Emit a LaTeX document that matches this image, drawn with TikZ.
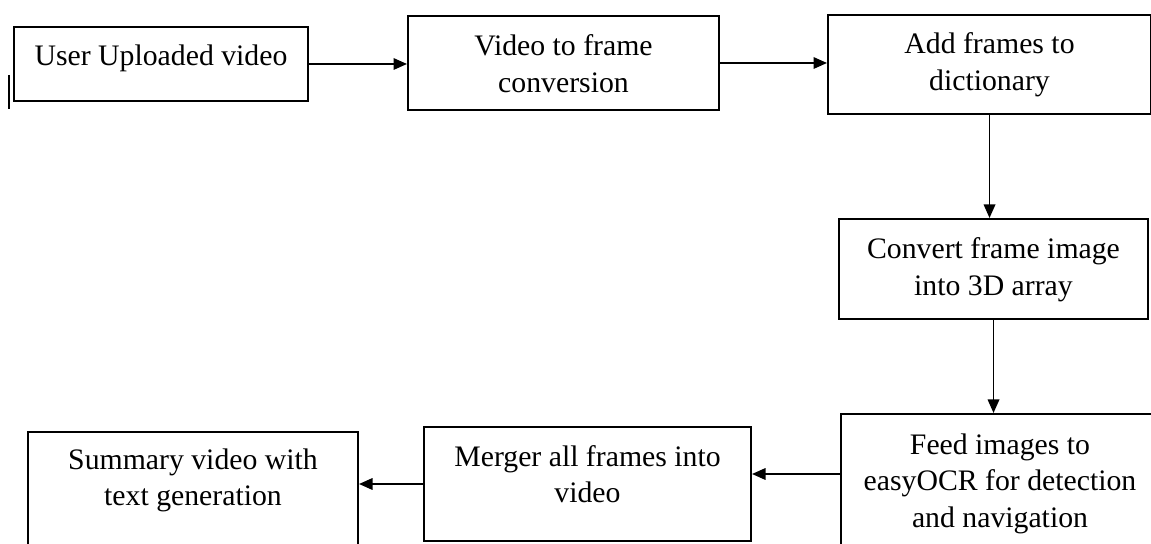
\documentclass[tikz,border=0pt]{standalone}
\usepackage{fontspec}
\setmainfont{Liberation Serif}
\usetikzlibrary{arrows.meta,positioning,calc}

\tikzset{
  stage/.style={draw,line width=0.8pt,align=center,anchor=north west,inner xsep=2pt,inner ysep=0pt,
    text height=15.6pt,font=\fontsize{11.9pt}{14.6pt}\selectfont},
  flow/.style={line width=0.7pt,-{Triangle[length=5.4pt,width=4.6pt]}}
}

\begin{document}
\begin{tikzpicture}[x=0.4pt,y=-0.4pt]
  \path[use as bounding box,clip] (0,0) rectangle (1151,544);

  % Top row
  \node[stage,minimum width=117.6pt,text depth=14pt] (upload) at (13,26) {User Uploaded video};
  \node[stage,minimum width=124.4pt,text height=30.6pt,text depth=7pt] (convert) at (407,15) {Video to frame\\conversion};
  \node[stage,minimum width=129.2pt,text height=30.2pt,text depth=9.4pt] (dict) at (827,14) {Add frames to\\dictionary};

  % Right column
  \node[stage,minimum width=123.6pt,text height=30.6pt,text depth=9.4pt] (array) at (838,218) {Convert frame image\\into 3D array};
  \node[stage,minimum width=127.2pt,text height=45.2pt,text depth=13.6pt] (ocr) at (840,413) {Feed images to\\easyOCR for detection\\and navigation};

  % Bottom row
  \node[stage,minimum width=130.8pt,text height=30.2pt,text depth=15.4pt] (merge) at (423,426) {Merger all frames into\\video};
  \node[stage,minimum width=132pt,text height=29.4pt,text depth=22.2pt] (summary) at (27,431) {Summary video with\\text generation};

  % stray mark left of first box
  \draw[line width=0.8pt] (9,75) -- (9,109);

  % Arrows
  \draw[flow] (upload.east) -- (upload.east -| convert.west);
  \draw[flow] (convert.east) -- (convert.east -| dict.west);
  \draw[flow] (dict.south) -- (dict.south |- array.north);
  \draw[flow] (array.south) -- (array.south |- ocr.north);
  \draw[flow] ([yshift=4pt]merge.east -| ocr.west) -- ([yshift=4pt]merge.east);
  \draw[flow] (merge.west) -- (merge.west -| summary.east);
\end{tikzpicture}
\end{document}
